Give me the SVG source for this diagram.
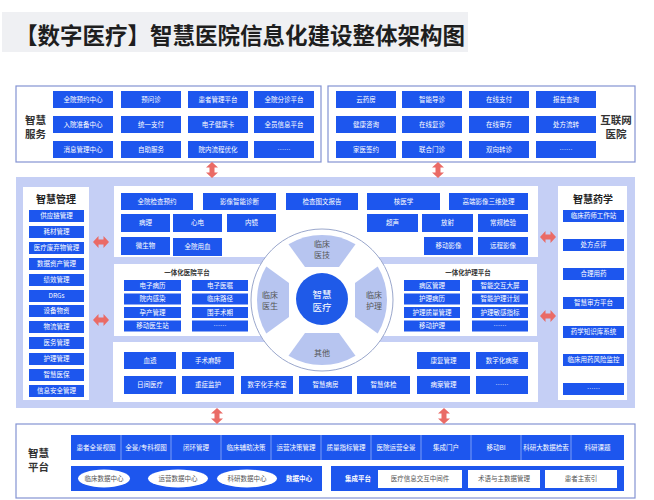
<svg xmlns="http://www.w3.org/2000/svg" width="654" height="500" viewBox="0 0 654 500">
<defs>
<style>
text{font-family:"Noto Sans CJK SC","Noto Sans",sans-serif}
.box{fill:#fff;stroke:#8493d3;stroke-width:1.2}
.b{fill:#1d56ee}
.t{fill:#fff;font-size:6.5px;text-anchor:middle}
.lbl{fill:#333;font-size:10.5px;font-weight:bold;text-anchor:middle}
.hd{fill:#222;font-size:10px;font-weight:bold;text-anchor:middle}
.sub{fill:#333;font-size:6.5px;font-weight:bold;text-anchor:middle}
.seg{fill:#b7c5f0}
.st{fill:#555;font-size:8px;text-anchor:middle}
.wt{fill:#fff;font-size:6.5px;font-weight:bold;text-anchor:middle}
.gt{fill:#555;font-size:6.5px;text-anchor:middle}
.arr{fill:#ea6b66}
</style>
<path id="av" d="M0,-8 L6,-2.5 L2.5,-2.5 L2.5,2.5 L6,2.5 L0,8 L-6,2.5 L-2.5,2.5 L-2.5,-2.5 L-6,-2.5 Z"/>
<path id="sg" d="M-17,-33 L-33.5,-55.7 A65,65 0 0 1 33.5,-55.7 L17,-33 Z"/>
</defs>
<rect width="654" height="500" fill="#fff"/>

<g id="title">
<rect x="2" y="12" width="466" height="40" fill="#eff0f3"/>
<text x="15" y="44" font-size="23" font-weight="bold" fill="#1e1e1e" textLength="450" lengthAdjust="spacingAndGlyphs">【数字医疗】智慧医院信息化建设整体架构图</text>
</g>

<g id="smart-service">
<rect class="box" x="16" y="86" width="305" height="76"/>
<text class="lbl" x="35.5" y="124">智慧<tspan x="35.5" dy="13.5">服务</tspan></text>
<rect class="b" x="53" y="91" width="60" height="17"/><text class="t" x="83" y="101.8">全院预约中心</text>
<rect class="b" x="121" y="91" width="60" height="17"/><text class="t" x="151" y="101.8">预问诊</text>
<rect class="b" x="188" y="91" width="60" height="17"/><text class="t" x="218" y="101.8">患者管理平台</text>
<rect class="b" x="254" y="91" width="60" height="17"/><text class="t" x="284" y="101.8">全院分诊平台</text>
<rect class="b" x="53" y="116" width="60" height="17"/><text class="t" x="83" y="126.8">入院准备中心</text>
<rect class="b" x="121" y="116" width="60" height="17"/><text class="t" x="151" y="126.8">统一支付</text>
<rect class="b" x="188" y="116" width="60" height="17"/><text class="t" x="218" y="126.8">电子健康卡</text>
<rect class="b" x="254" y="116" width="60" height="17"/><text class="t" x="284" y="126.8">全员信息平台</text>
<rect class="b" x="53" y="141" width="60" height="17"/><text class="t" x="83" y="151.8">消息管理中心</text>
<rect class="b" x="121" y="141" width="60" height="17"/><text class="t" x="151" y="151.8">自助服务</text>
<rect class="b" x="188" y="141" width="60" height="17"/><text class="t" x="218" y="151.8">院内流程优化</text>
<rect class="b" x="254" y="141" width="60" height="17"/><text class="t" x="284" y="151.8">……</text>
</g>

<g id="internet-hospital">
<rect class="box" x="328" y="86" width="307" height="76"/>
<text class="lbl" x="616" y="124">互联网<tspan x="616" dy="13.5">医院</tspan></text>
<rect class="b" x="336" y="91" width="60" height="17"/><text class="t" x="366" y="101.8">云药房</text>
<rect class="b" x="402" y="91" width="60" height="17"/><text class="t" x="432" y="101.8">智能导诊</text>
<rect class="b" x="469" y="91" width="60" height="17"/><text class="t" x="499" y="101.8">在线支付</text>
<rect class="b" x="536" y="91" width="60" height="17"/><text class="t" x="566" y="101.8">报告查询</text>
<rect class="b" x="336" y="116" width="60" height="17"/><text class="t" x="366" y="126.8">健康咨询</text>
<rect class="b" x="402" y="116" width="60" height="17"/><text class="t" x="432" y="126.8">在线复诊</text>
<rect class="b" x="469" y="116" width="60" height="17"/><text class="t" x="499" y="126.8">在线审方</text>
<rect class="b" x="536" y="116" width="60" height="17"/><text class="t" x="566" y="126.8">处方流转</text>
<rect class="b" x="336" y="141" width="60" height="17"/><text class="t" x="366" y="151.8">家医签约</text>
<rect class="b" x="402" y="141" width="60" height="17"/><text class="t" x="432" y="151.8">联合门诊</text>
<rect class="b" x="469" y="141" width="60" height="17"/><text class="t" x="499" y="151.8">双向转诊</text>
<rect class="b" x="536" y="141" width="60" height="17"/><text class="t" x="566" y="151.8">……</text>
</g>

<g id="middle-panel">
<rect x="16" y="177" width="619" height="231" fill="#c5cff5"/>
</g>

<g id="smart-management">
<rect x="23" y="187" width="66" height="213" fill="#fff"/>
<text class="hd" x="56" y="203">智慧管理</text>
<rect class="b" x="29" y="210" width="55" height="12"/><text class="t" x="56.5" y="218.3">供应链管理</text>
<rect class="b" x="29" y="226" width="55" height="12"/><text class="t" x="56.5" y="234.3">耗材管理</text>
<rect class="b" x="29" y="242" width="55" height="12"/><text class="t" x="56.5" y="250.3">医疗废弃物管理</text>
<rect class="b" x="29" y="258" width="55" height="12"/><text class="t" x="56.5" y="266.3">数据资产管理</text>
<rect class="b" x="29" y="274" width="55" height="12"/><text class="t" x="56.5" y="282.3">绩效管理</text>
<rect class="b" x="29" y="290" width="55" height="12"/><text class="t" x="56.5" y="298.3">DRGs</text>
<rect class="b" x="29" y="305" width="55" height="12"/><text class="t" x="56.5" y="313.3">设备物资</text>
<rect class="b" x="29" y="321" width="55" height="12"/><text class="t" x="56.5" y="329.3">物流管理</text>
<rect class="b" x="29" y="337" width="55" height="12"/><text class="t" x="56.5" y="345.3">医务管理</text>
<rect class="b" x="29" y="353" width="55" height="12"/><text class="t" x="56.5" y="361.3">护理管理</text>
<rect class="b" x="29" y="369" width="55" height="12"/><text class="t" x="56.5" y="377.3">智慧医保</text>
<rect class="b" x="29" y="385" width="55" height="12"/><text class="t" x="56.5" y="393.3">信息安全管理</text>
</g>

<g id="smart-pharmacy">
<rect x="558" y="186" width="69" height="214" fill="#fff"/>
<text class="hd" x="593" y="203">智慧药学</text>
<rect class="b" x="563" y="210" width="61" height="12"/><text class="t" x="593.5" y="218.3">临床药师工作站</text>
<rect class="b" x="563" y="239" width="61" height="12"/><text class="t" x="593.5" y="247.3">处方点评</text>
<rect class="b" x="563" y="268" width="61" height="12"/><text class="t" x="593.5" y="276.3">合理用药</text>
<rect class="b" x="563" y="297" width="61" height="12"/><text class="t" x="593.5" y="305.3">智慧审方平台</text>
<rect class="b" x="563" y="326" width="61" height="12"/><text class="t" x="593.5" y="334.3">药学知识库系统</text>
<rect class="b" x="563" y="354" width="61" height="12"/><text class="t" x="593.5" y="362.3">临床用药风险监控</text>
<rect class="b" x="563" y="383" width="61" height="12"/><text class="t" x="593.5" y="391.3">……</text>
</g>

<g id="medical-tech">
<rect x="114" y="186" width="424" height="71" fill="#fff"/>
<rect class="b" x="121" y="193" width="72" height="17"/><text class="t" x="157" y="203.8">全院检查预约</text>
<rect class="b" x="203" y="193" width="73" height="17"/><text class="t" x="239.5" y="203.8">影像智能诊断</text>
<rect class="b" x="286" y="193" width="72" height="17"/><text class="t" x="322" y="203.8">检查图文报告</text>
<rect class="b" x="367" y="193" width="73" height="17"/><text class="t" x="403.5" y="203.8">核医学</text>
<rect class="b" x="449" y="193" width="79" height="17"/><text class="t" x="488.5" y="203.8">高端影像三维处理</text>
<rect class="b" x="121" y="214" width="49" height="18"/><text class="t" x="145.5" y="225.3">病理</text>
<rect class="b" x="173" y="214" width="49" height="18"/><text class="t" x="197.5" y="225.3">心电</text>
<rect class="b" x="227" y="214" width="49" height="18"/><text class="t" x="251.5" y="225.3">内镜</text>
<rect class="b" x="367" y="214" width="51" height="18"/><text class="t" x="392.5" y="225.3">超声</text>
<rect class="b" x="422" y="214" width="51" height="18"/><text class="t" x="447.5" y="225.3">放射</text>
<rect class="b" x="478" y="214" width="50" height="18"/><text class="t" x="503" y="225.3">常规检验</text>
<rect class="b" x="121" y="237" width="49" height="18"/><text class="t" x="145.5" y="248.3">微生物</text>
<rect class="b" x="173" y="238" width="49" height="18"/><text class="t" x="197.5" y="249.3">全院用血</text>
<rect class="b" x="424" y="237" width="49" height="18"/><text class="t" x="448.5" y="248.3">移动影像</text>
<rect class="b" x="478" y="237" width="50" height="18"/><text class="t" x="503" y="248.3">远程影像</text>
</g>

<g id="hospital-platform">
<rect x="114" y="264" width="210" height="72" fill="#fff"/>
<text class="sub" x="187" y="275">一体化医院平台</text>
<rect class="b" x="124" y="280" width="57" height="11"/><text class="t" x="152.5" y="287.8">电子病历</text>
<rect class="b" x="192" y="280" width="56" height="11"/><text class="t" x="220" y="287.8">电子医嘱</text>
<rect class="b" x="124" y="293.5" width="57" height="11"/><text class="t" x="152.5" y="301.3">院内感染</text>
<rect class="b" x="192" y="293.5" width="56" height="11"/><text class="t" x="220" y="301.3">临床路径</text>
<rect class="b" x="124" y="307" width="57" height="11"/><text class="t" x="152.5" y="314.8">孕产管理</text>
<rect class="b" x="192" y="307" width="56" height="11"/><text class="t" x="220" y="314.8">围手术期</text>
<rect class="b" x="124" y="320.5" width="57" height="11"/><text class="t" x="152.5" y="328.3">移动医生站</text>
<rect class="b" x="192" y="320.5" width="56" height="11"/><text class="t" x="220" y="328.3">……</text>
</g>

<g id="nursing-platform">
<rect x="324" y="264" width="213" height="72" fill="#fff"/>
<text class="sub" x="468" y="275">一体化护理平台</text>
<rect class="b" x="404" y="280" width="56" height="11"/><text class="t" x="432" y="287.8">病区管理</text>
<rect class="b" x="472" y="280" width="56" height="11"/><text class="t" x="500" y="287.8">智能交互大屏</text>
<rect class="b" x="404" y="293.5" width="56" height="11"/><text class="t" x="432" y="301.3">护理病历</text>
<rect class="b" x="472" y="293.5" width="56" height="11"/><text class="t" x="500" y="301.3">智能护理计划</text>
<rect class="b" x="404" y="307" width="56" height="11"/><text class="t" x="432" y="314.8">护理质量管理</text>
<rect class="b" x="472" y="307" width="56" height="11"/><text class="t" x="500" y="314.8">护理敏感指标</text>
<rect class="b" x="404" y="320.5" width="56" height="11"/><text class="t" x="432" y="328.3">移动护理</text>
<rect class="b" x="472" y="320.5" width="56" height="11"/><text class="t" x="500" y="328.3">……</text>
</g>

<g id="other-services">
<rect x="113" y="342" width="425" height="60" fill="#fff"/>
<rect class="b" x="124" y="352" width="52" height="17"/><text class="t" x="150" y="362.8">血透</text>
<rect class="b" x="182" y="352" width="52" height="17"/><text class="t" x="208" y="362.8">手术麻醉</text>
<rect class="b" x="417" y="352" width="53" height="17"/><text class="t" x="443.5" y="362.8">康复管理</text>
<rect class="b" x="476" y="352" width="52" height="17"/><text class="t" x="502" y="362.8">数字化病案</text>
<rect class="b" x="124" y="376" width="52" height="18"/><text class="t" x="150" y="387.3">日间医疗</text>
<rect class="b" x="182" y="376" width="52" height="18"/><text class="t" x="208" y="387.3">重症监护</text>
<rect class="b" x="241" y="376" width="52" height="18"/><text class="t" x="267" y="387.3">数字化手术室</text>
<rect class="b" x="299" y="376" width="53" height="18"/><text class="t" x="325.5" y="387.3">智慧病房</text>
<rect class="b" x="357" y="376" width="53" height="18"/><text class="t" x="383.5" y="387.3">智慧体检</text>
<rect class="b" x="417" y="376" width="53" height="18"/><text class="t" x="443.5" y="387.3">病案管理</text>
<rect class="b" x="476" y="376" width="52" height="18"/><text class="t" x="502" y="387.3">……</text>
</g>

<g id="smart-medical-wheel">
<circle cx="322" cy="300" r="71" fill="#fff" stroke="#9aa7cc" stroke-width="1"/>
<use href="#sg" class="seg" transform="translate(322,300)"/>
<use href="#sg" class="seg" transform="translate(322,300) rotate(90)"/>
<use href="#sg" class="seg" transform="translate(322,300) rotate(180)"/>
<use href="#sg" class="seg" transform="translate(322,300) rotate(270)"/>
<circle cx="322" cy="299" r="26" fill="#1f5ae8"/>
<text x="322" y="297.5" font-size="9.5" fill="#fff" text-anchor="middle">智慧<tspan x="322" dy="13">医疗</tspan></text>
<text class="st" x="322" y="247">临床<tspan x="322" dy="10.5">医技</tspan></text>
<text class="st" x="270" y="298">临床<tspan x="270" dy="10.5">医生</tspan></text>
<text class="st" x="374" y="298">临床<tspan x="374" dy="10.5">护理</tspan></text>
<text class="st" x="322" y="356">其他</text>
</g>

<g id="smart-platform">
<rect class="box" x="16" y="424" width="619" height="74"/>
<text class="lbl" x="38.5" y="457">智慧<tspan x="38.5" dy="14">平台</tspan></text>
<rect class="b" x="71" y="435" width="553" height="25"/>
<g stroke="#7d9cf5" stroke-width="1">
<line x1="121" y1="435" x2="121" y2="460"/><line x1="171" y1="435" x2="171" y2="460"/>
<line x1="221" y1="435" x2="221" y2="460"/><line x1="271" y1="435" x2="271" y2="460"/>
<line x1="321" y1="435" x2="321" y2="460"/><line x1="371" y1="435" x2="371" y2="460"/>
<line x1="421" y1="435" x2="421" y2="460"/><line x1="471" y1="435" x2="471" y2="460"/>
<line x1="521" y1="435" x2="521" y2="460"/><line x1="571" y1="435" x2="571" y2="460"/>
</g>
<text class="t" x="96" y="449.8">患者全景视图</text>
<text class="t" x="146" y="449.8">全景/专科视图</text>
<text class="t" x="196" y="449.8">闭环管理</text>
<text class="t" x="246" y="449.8">临床辅助决策</text>
<text class="t" x="296" y="449.8">运营决策管理</text>
<text class="t" x="346" y="449.8">质量指标管理</text>
<text class="t" x="396" y="449.8">医院运营全景</text>
<text class="t" x="446" y="449.8">集成门户</text>
<text class="t" x="496" y="449.8">移动BI</text>
<text class="t" x="546" y="449.8">科研大数据检索</text>
<text class="t" x="597.5" y="449.8">科研课题</text>
<rect class="b" x="71" y="466" width="251" height="25"/>
<ellipse cx="104" cy="478.5" rx="26" ry="9" fill="#fff"/><text class="gt" x="104" y="480.8">临床数据中心</text>
<ellipse cx="178" cy="478.5" rx="30" ry="9" fill="#fff"/><text class="gt" x="178" y="480.8">运营数据中心</text>
<ellipse cx="247" cy="478.5" rx="30" ry="9" fill="#fff"/><text class="gt" x="247" y="480.8">科研数据中心</text>
<text class="wt" x="299" y="480.8">数据中心</text>
<rect class="b" x="331" y="466" width="293" height="25"/>
<text class="wt" x="358" y="480.8">集成平台</text>
<rect x="378" y="470" width="84" height="18" fill="#fff"/><text class="gt" x="420" y="481.3">医疗信息交互中间件</text>
<rect x="468" y="470" width="72" height="18" fill="#fff"/><text class="gt" x="504" y="481.3">术语与主数据管理</text>
<rect x="545" y="470" width="72" height="18" fill="#fff"/><text class="gt" x="581" y="481.3">患者主索引</text>
</g>

<g id="connectors" class="arr">
<use href="#av" transform="translate(212,170)"/>
<use href="#av" transform="translate(438,170)"/>
<use href="#av" transform="translate(217,416)"/>
<use href="#av" transform="translate(444,416)"/>
<use href="#av" transform="translate(101,242) rotate(90)"/>
<use href="#av" transform="translate(101,320) rotate(90)"/>
<use href="#av" transform="translate(548,237) rotate(90)"/>
<use href="#av" transform="translate(548,316) rotate(90)"/>
</g>
</svg>
